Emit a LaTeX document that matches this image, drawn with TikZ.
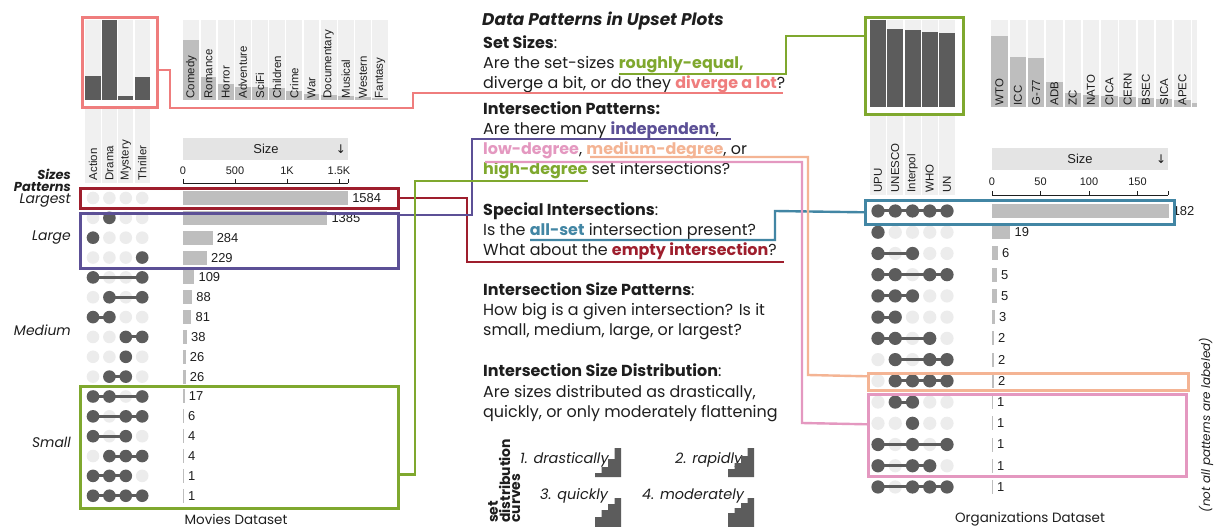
\documentclass[tikz,border=0pt]{standalone}
\usepackage{fontspec}
\setmainfont{Poppins}
\newfontfamily\chartfont{Liberation Sans}
\newfontfamily\symfont{DejaVu Sans}
\definecolor{cPink}{RGB}{239,125,125}
\definecolor{cGreen}{RGB}{127,168,46}
\definecolor{cDarkRed}{RGB}{158,30,45}
\definecolor{cPurple}{RGB}{92,80,150}
\definecolor{cMauve}{RGB}{228,152,192}
\definecolor{cPeach}{RGB}{244,180,148}
\definecolor{cTeal}{RGB}{66,134,164}
\definecolor{cDot}{RGB}{92,92,92}
\definecolor{cAbsent}{RGB}{236,236,236}
\definecolor{cBar}{RGB}{190,190,190}
\definecolor{cStrip}{RGB}{240,240,240}
\definecolor{cHead}{RGB}{228,228,228}
\definecolor{cText}{RGB}{30,30,30}
\tikzset{
  hl/.style={draw=#1, line width=2.6bp, inner sep=0, fill=none},
  conn/.style={draw=#1, line width=2.4bp},
  setlbl/.style={font=\chartfont\fontsize{11.5}{12}\selectfont, text=cText, inner sep=0.5bp},
  vallbl/.style={font=\chartfont\fontsize{13}{14}\selectfont, text=cText, inner sep=1bp},
  axlbl/.style={font=\chartfont\fontsize{11}{12}\selectfont, text=cText, inner sep=0},
  body/.style={font=\fontsize{16}{18}\selectfont, text=cText, inner sep=0, anchor=base west},
  side/.style={font=\itshape\fontsize{14}{15}\selectfont, text=cText, inner sep=0, anchor=east},
  sidehead/.style={font=\bfseries\itshape\fontsize{13}{14}\selectfont, text=cText, inner sep=0, anchor=base east},
  curvelbl/.style={font=\itshape\fontsize{14.5}{15}\selectfont, text=cText, inner sep=0, anchor=base west},
}
\newcommand{\movrow}[5]{%
  \pgfmathsetmacro{\ry}{198+(#1-1)*19.85}%
  \foreach \k in {1,...,4}{\fill[cAbsent] ({93+(\k-1)*16.4},\ry) circle (6.3bp);}%
  \ifnum#2>0
    \draw[cDot, line width=3bp] ({93+(#2-1)*16.4},\ry) -- ({93+(#3-1)*16.4},\ry);%
    \foreach \k in {#4}{\fill[cDot] ({93+(\k-1)*16.4},\ry) circle (6.3bp);}%
  \fi
  \pgfmathsetmacro{\bw}{max(1,#5*0.1042)}%
  \fill[cBar] (183,\ry-7) rectangle ({183+\bw},\ry+7);%
  \node[vallbl, anchor=west] (mv#1) at ({186+\bw},\ry) {#5};%
}
\newcommand{\orgrow}[5]{%
  \pgfmathsetmacro{\ry}{211+(#1-1)*21.23}%
  \foreach \k in {1,...,5}{\fill[cAbsent] ({878+(\k-1)*17.25},\ry) circle (6.6bp);}%
  \draw[cDot, line width=3bp] ({878+(#2-1)*17.25},\ry) -- ({878+(#3-1)*17.25},\ry);%
  \foreach \k in {#4}{\fill[cDot] ({878+(\k-1)*17.25},\ry) circle (6.6bp);}%
  \pgfmathsetmacro{\bw}{max(1,#5*0.97)}%
  \fill[cBar] (992,\ry-7) rectangle ({992+\bw},\ry+7);%
  \node[vallbl, anchor=west] (ov#1) at ({995+\bw},\ry) {#5};%
}
\newcommand{\stairs}[6]{%
  \fill[cDot] (#1,#2) -- (#1,#2-#3) -- (#1+6.5,#2-#3) -- (#1+6.5,#2-#4) -- (#1+13,#2-#4) -- (#1+13,#2-#5) -- (#1+19.5,#2-#5) -- (#1+19.5,#2-#6) -- (#1+26,#2-#6) -- (#1+26,#2) -- cycle;%
}
\begin{document}
\begin{tikzpicture}[x=1bp, y=-1bp]
\useasboundingbox (0,0) rectangle (1217,527);
\fill[white] (0,0) rectangle (1217,527);

% ---------------- Movies: set size bars ----------------
\foreach \c/\t [count=\i] in {Action/76, Drama/20, Mystery/96, Thriller/77}{
  \pgfmathsetmacro{\cx}{93+(\i-1)*16.4}
  \fill[cStrip] (\cx-7.6,20) rectangle (\cx+7.6,100);
  \fill[cDot] (\cx-7.6,\t) rectangle (\cx+7.6,100);
  \fill[cStrip] (\cx-7.6,108) rectangle (\cx+7.6,183);
  \node[setlbl, rotate=90, anchor=west] (ms\i) at (\cx,181) {\c};
}
\foreach \c/\t [count=\i] in {Comedy/40, Romance/77, Horror/84, Adventure/87, SciFi/87, Children/88, Crime/91, War/94, Documentary/95, Musical/96, Western/97, Fantasy/98}{
  \pgfmathsetmacro{\cx}{191.3+(\i-1)*17.17}
  \fill[cStrip] (\cx-7.9,20) rectangle (\cx+7.9,100);
  \fill[cBar] (\cx-7.9,\t) rectangle (\cx+7.9,100);
  \node[setlbl, rotate=90, anchor=west] (mo\i) at (\cx,99) {\c};
}
% header + axis
\node[fill=cHead, minimum width=165bp, minimum height=22bp, anchor=north west, inner sep=0] (movHead) at (183,138) {};
\node[font=\chartfont\fontsize{13}{14}\selectfont, text=cText] (movHeadT) at (266,149) {Size};
\node[font=\symfont\fontsize{12}{14}\selectfont, text=cText] (movHeadA) at (341,149) {↓};
\draw[cText, line width=0.8bp] (183,183) -- (348,183);
\foreach \x in {183,235,287,339,348} \draw[cText, line width=0.8bp] (\x,183) -- (\x,179);
\foreach \x/\l [count=\i] in {183/0,235/500,287/1K,339/1.5K} \node[axlbl] (max\i) at (\x,171) {\l};

% rows
\movrow{1}{0}{0}{1}{1584}
\movrow{2}{2}{2}{2}{1385}
\movrow{3}{1}{1}{1}{284}
\movrow{4}{4}{4}{4}{229}
\movrow{5}{1}{4}{1,4}{109}
\movrow{6}{2}{4}{2,4}{88}
\movrow{7}{1}{2}{1,2}{81}
\movrow{8}{3}{4}{3,4}{38}
\movrow{9}{3}{3}{3}{26}
\movrow{10}{2}{3}{2,3}{26}
\movrow{11}{1}{4}{1,2,4}{17}
\movrow{12}{1}{4}{1,3,4}{6}
\movrow{13}{1}{3}{1,3}{4}
\movrow{14}{2}{4}{2,3,4}{4}
\movrow{15}{1}{3}{1,2,3}{1}
\movrow{16}{1}{4}{1,2,3,4}{1}

% side labels
\node[sidehead] (sSizes) at (71,180) {Sizes};
\node[sidehead] (sPatt) at (71,191.5) {Patterns};
\node[side, anchor=base east] (sLargest) at (71,204) {Largest};
\node[side] (sLarge) at (71,238) {Large};
\node[side] (sMedium) at (71,330) {Medium};
\node[side] (sSmall) at (71,442) {Small};
\node[font=\fontsize{13.5}{14}\selectfont, text=cText] (movTitle) at (236,519) {Movies Dataset};

% ---------------- Organizations ----------------
\foreach \c/\t [count=\i] in {UPU/20, UNESCO/29, Interpol/30, WHO/32, UN/33}{
  \pgfmathsetmacro{\cx}{878+(\i-1)*17.25}
  \fill[cStrip] (\cx-8,20) rectangle (\cx+8,107);
  \fill[cDot] (\cx-8,\t) rectangle (\cx+8,107);
  \fill[cStrip] (\cx-8,116) rectangle (\cx+8,195);
  \node[setlbl, rotate=90, anchor=west] (os\i) at (\cx,193) {\c};
}
\foreach \c/\t [count=\i] in {WTO/36, ICC/57, G-77/58, ADB/82, ZC/93, NATO/95, CICA/96, CERN/97, BSEC/98, SICA/99, APEC/100}{
  \pgfmathsetmacro{\cx}{999.5+(\i-1)*18.3}
  \fill[cStrip] (\cx-8.2,20) rectangle (\cx+8.2,107);
  \fill[cBar] (\cx-8.2,\t) rectangle (\cx+8.2,107);
  \node[setlbl, rotate=90, anchor=west] (oo\i) at (\cx,106) {\c};
}
\fill[cStrip] (1192,20) rectangle (1197,107);
\fill[cBar] (1192,103) rectangle (1197,107);
\node[fill=cHead, minimum width=176bp, minimum height=22bp, anchor=north west, inner sep=0] (orgHead) at (992,148) {};
\node[font=\chartfont\fontsize{13}{14}\selectfont, text=cText] (orgHeadT) at (1080,159) {Size};
\node[font=\symfont\fontsize{12}{14}\selectfont, text=cText] (orgHeadA) at (1161,159) {↓};
\draw[cText, line width=0.8bp] (992,195) -- (1168,195);
\foreach \x in {992,1040.5,1089,1137.5,1168} \draw[cText, line width=0.8bp] (\x,195) -- (\x,191);
\foreach \x/\l [count=\i] in {992/0,1040.5/50,1089/100,1137.5/150} \node[axlbl] (oax\i) at (\x,182) {\l};

\orgrow{1}{1}{5}{1,2,3,4,5}{182}
\orgrow{2}{1}{1}{1}{19}
\orgrow{3}{1}{3}{1,3}{6}
\orgrow{4}{1}{5}{1,2,4,5}{5}
\orgrow{5}{1}{3}{1,2,3}{5}
\orgrow{6}{1}{2}{1,2}{3}
\orgrow{7}{1}{4}{1,2,4}{2}
\orgrow{8}{2}{5}{2,4,5}{2}
\orgrow{9}{2}{5}{2,3,4,5}{2}
\orgrow{10}{2}{3}{2,3}{1}
\orgrow{11}{3}{3}{3}{1}
\orgrow{12}{1}{5}{1,3,5}{1}
\orgrow{13}{1}{4}{1,3,4}{1}
\orgrow{14}{1}{5}{1,3,4,5}{1}

\node[font=\fontsize{13.5}{14}\selectfont, text=cText] (orgTitle) at (1030,519) {Organizations Dataset};
\node[font=\itshape\fontsize{12}{14}\selectfont, text=cText, rotate=90] (note) at (1206,425) {(not all patterns are labeled)};

% ---------------- Middle text ----------------
\node[body, font=\bfseries\itshape\fontsize{17}{18}\selectfont] (t1) at (482,26) {Data Patterns in Upset Plots};
\node[body] (t2) at (483,49) {\textbf{Set Sizes}:};
\node[body] (t3) at (483,69) {Are the set-sizes \textbf{\color{cGreen}roughly-equal,}};
\node[body] (t4) at (483,89) {diverge a bit, or do they \textbf{\color{cPink}diverge a lot}?};
\node[body] (t5) at (483,115) {\textbf{Intersection Patterns:}};
\node[body] (t6) at (483,135) {Are there many \textbf{\color{cPurple}independent},};
\node[body] (t7) at (483,155) {\textbf{\color{cMauve}low-degree}, \textbf{\color{cPeach}medium-degree}, or};
\node[body] (t8) at (483,175) {\textbf{\color{cGreen}high-degree} set intersections?};
\node[body] (t9) at (483,216) {\textbf{Special Intersections}:};
\node[body] (t10) at (483,236) {Is the \textbf{\color{cTeal}all-set} intersection present?};
\node[body] (t11) at (483,256) {What about the \textbf{\color{cDarkRed}empty intersection}?};
\node[body] (t12) at (483,296) {\textbf{Intersection Size Patterns}:};
\node[body] (t13) at (483,316) {How big is a given intersection? Is it};
\node[body] (t14) at (483,336) {small, medium, large, or largest?};
\node[body] (t15) at (483,377) {\textbf{Intersection Size Distribution}:};
\node[body] (t16) at (483,397) {Are sizes distributed as drastically,};
\node[body] (t17) at (483,417) {quickly, or only moderately flattening};

% distribution curves
\node[font=\bfseries\fontsize{14}{10}\selectfont, text=cText, rotate=90, anchor=north west, align=left, inner sep=0] (curvesT) at (488,523) {set\\distribution\\curves};
\node[curvelbl] (c1) at (520,463) {1. drastically};
\node[curvelbl] (c2) at (675,463) {2. rapidly};
\node[curvelbl] (c3) at (540,499) {3. quickly};
\node[curvelbl] (c4) at (642,499) {4. moderately};
\stairs{595}{477}{4}{10}{18}{29}
\stairs{728}{477}{8}{14}{21}{29}
\stairs{595}{527}{10}{17}{23}{29}
\stairs{728}{527}{14}{19}{24}{29}

% ---------------- Highlight boxes ----------------
\node[hl=cPink, minimum width=75bp, minimum height=90bp, anchor=north west] (movSetBox) at (81,16) {};
\node[hl=cGreen, minimum width=98bp, minimum height=97bp, anchor=north west] (orgSetBox) at (864,16) {};
\node[hl=cDarkRed, minimum width=318bp, minimum height=20bp, anchor=north west] (largestBox) at (79,187) {};
\node[hl=cPurple, minimum width=318bp, minimum height=55bp, anchor=north west] (largeBox) at (79,212) {};
\node[hl=cGreen, minimum width=318bp, minimum height=122bp, anchor=north west] (smallBox) at (79,385) {};
\node[hl=cTeal, minimum width=309bp, minimum height=24bp, anchor=north west] (allBox) at (864,199) {};
\node[hl=cPeach, minimum width=320bp, minimum height=17bp, anchor=north west] (medBox) at (867,372) {};
\node[hl=cMauve, minimum width=318bp, minimum height=82bp, anchor=north west] (lowBox) at (867,393) {};

% ---------------- Connectors ----------------
\coordinate (pinkU) at (783,93);
\coordinate (roughU) at (619,74);
\coordinate (indepU) at (731,139);
\coordinate (lowU) at (485,162);
\coordinate (medU) at (590,157);
\coordinate (highU) at (588,181);
\coordinate (allU) at (530,240);
\coordinate (emptyU) at (784,262);
\coordinate (greenT) at (864,36);

\draw[conn=cPink] ([yshift=-8bp]movSetBox.east) -| (170,108) -| (413,93) -- (pinkU);
\draw[conn=cGreen] (roughU) -| (786,36) -- (orgSetBox.west |- greenT);
\draw[conn=cDarkRed] (largestBox.east) -| (467,262) -- (emptyU);
\draw[conn=cPurple] ([yshift=-3bp]largeBox.north east) -| (472,139) -- (indepU);
\draw[conn=cGreen] ([yshift=35bp]smallBox.south east) -| (415,181) -- (highU);
\draw[conn=cTeal] (allU) -| (775,211) -- (allBox.west);
\draw[conn=cMauve] (lowU) -| (802,423) -- ([yshift=11bp]lowBox.west);
\draw[conn=cPeach] (medU) -| (808,375) -- ([yshift=5.5bp]medBox.west);
\end{tikzpicture}
\end{document}
